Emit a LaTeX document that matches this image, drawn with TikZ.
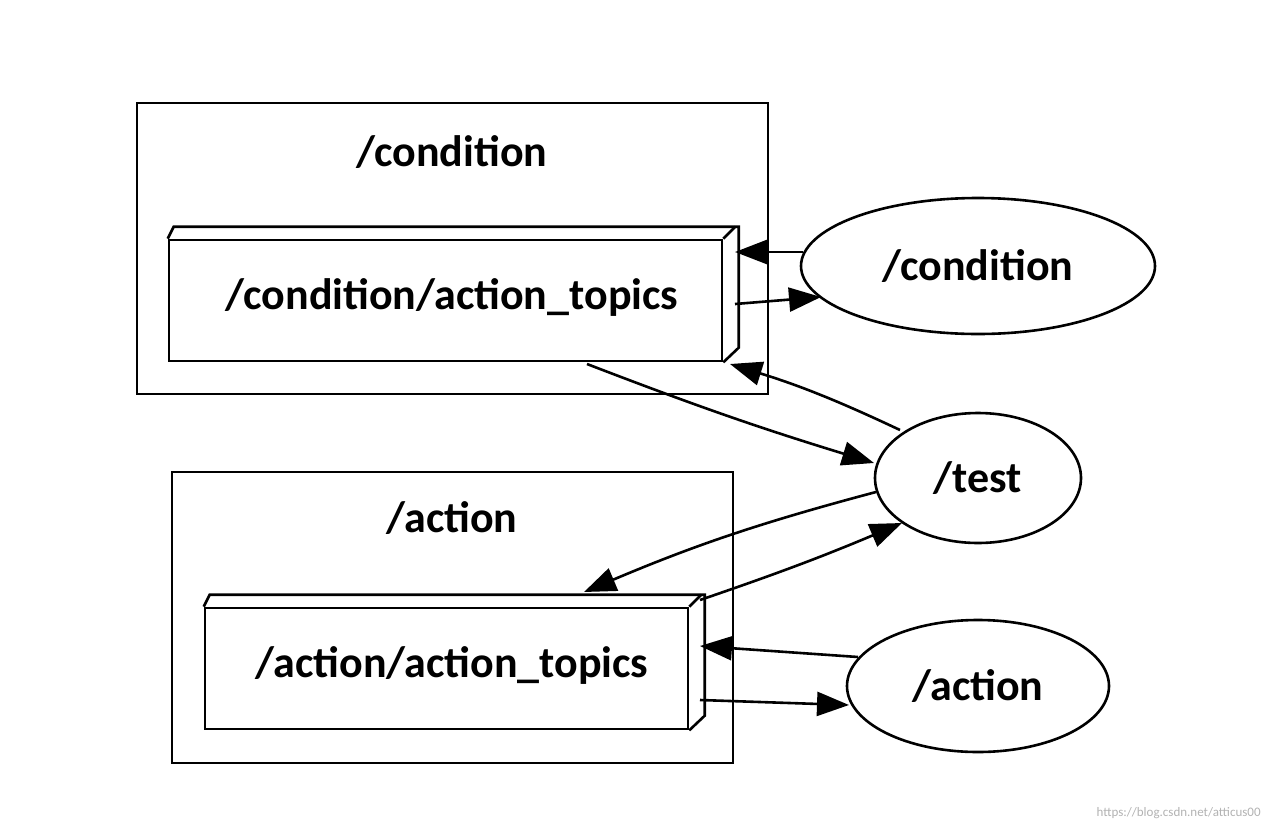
\documentclass[tikz,border=0pt]{standalone}
\usepackage{fontspec}
\setmainfont{Carlito}
\usetikzlibrary{arrows.meta,shapes.geometric}
\begin{document}
\begin{tikzpicture}[x=1pt,y=-1pt,line width=2.6pt,
  lbl/.style={font=\bfseries\fontsize{44}{50}\selectfont,inner sep=0},
  ell/.style={draw,ellipse,line width=2.6pt},
  arr/.style={-{Triangle[length=32pt,width=24pt]}}]
\useasboundingbox (0,0) rectangle (1272,828);
% clusters
\node[draw,minimum width=631,minimum height=291,inner sep=0] (cc) at (452.5,248.5) {};
\node[lbl] (ccl) at (452,152) {/condition};
\node[draw,minimum width=561,minimum height=291,inner sep=0] (ac) at (452.5,617.5) {};
\node[lbl] (acl) at (452,518) {/action};
% 3D boxes
\node[draw,minimum width=553,minimum height=121,inner sep=0] (ct) at (445.5,300.5) {};
\draw (ct.north west) -- ++(6,-12) -- ++(565,0) -- ++(0,121) -- (ct.south east);
\draw (ct.north east) -- ++(12,-12);
\node[lbl] (ctl) at (452,297) {/condition/action\_topics};
\node[draw,minimum width=483,minimum height=121,inner sep=0] (at) at (446.5,668.5) {};
\draw (at.north west) -- ++(6,-12) -- ++(495,0) -- ++(0,121) -- (at.south east);
\draw (at.north east) -- ++(12,-12);
\node[lbl] (atl) at (452,665) {/action/action\_topics};
% ellipses
\node[ell,minimum width=354,minimum height=136] (ce) at (978,266) {};
\node[lbl] at (ce) {/condition};
\node[ell,minimum width=206,minimum height=130] (te) at (978,478) {};
\node[lbl] at (te) {/test};
\node[ell,minimum width=262,minimum height=132] (ae) at (978,686) {};
\node[lbl] at (ae) {/action};
% connectors
\coordinate (p1) at (803,252); \coordinate (q1) at (735,252);
\coordinate (p2) at (735,304); \coordinate (q2) at (821,297);
\coordinate (p3) at (900,430); \coordinate (q3) at (730,364);
\coordinate (p4) at (587,364); \coordinate (q4) at (874,463);
\coordinate (p5) at (876,492); \coordinate (q5) at (584,592);
\coordinate (p6) at (700,600); \coordinate (q6) at (902,523);
\coordinate (p7) at (858,657); \coordinate (q7) at (700,646);
\coordinate (p8) at (700,700); \coordinate (q8) at (849,705);
\draw[arr] (p1) -- (q1);
\draw[arr] (p2) -- (q2);
\draw[arr] (p3) to[bend right=4] (q3);
\draw[arr] (p4) to[bend right=2] (q4);
\draw[arr] (p5) to[bend right=4] (q5);
\draw[arr] (p6) to[bend right=2] (q6);
\draw[arr] (p7) -- (q7);
\draw[arr] (p8) -- (q8);
\node[font=\fontsize{13}{15}\selectfont,text=gray!60,anchor=south east,inner sep=0] (wm) at (1262,820) {https://blog.csdn.net/atticus00};
\end{tikzpicture}
\end{document}
